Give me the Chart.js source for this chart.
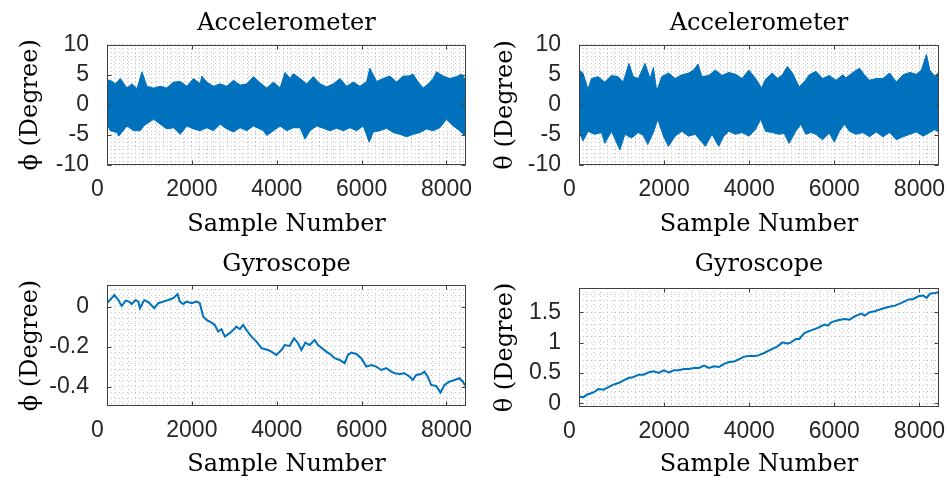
<!DOCTYPE html>
<html>
<head>
<meta charset="utf-8">
<script src="https://cdn.jsdelivr.net/npm/chart.js@4.4.1/dist/chart.umd.min.js"></script>
<style>
  html, body { margin: 0; padding: 0; background: #fff; }
  #fig { position: relative; width: 949px; height: 480px; }
  #fig canvas { position: absolute; }
</style>
</head>
<body>
<div id="fig">
  <canvas id="acc-phi" width="475" height="240" style="left:0;top:0"></canvas>
  <canvas id="acc-theta" width="474" height="240" style="left:475px;top:0"></canvas>
  <canvas id="gyro-phi" width="475" height="240" style="left:0;top:240px"></canvas>
  <canvas id="gyro-theta" width="474" height="240" style="left:475px;top:240px"></canvas>
</div>
<script>
// ---------- dados ----------
// acelerômetro: envoltória superior/inferior do ruído (graus)
const accPhiUpperX = [0,78,196,314,471,588,706,824,941,1098,1255,1412,1569,1725,1882,2039,2196,2235,2353,2510,2667,2824,2980,3137,3294,3451,3608,3765,3922,4078,4196,4314,4392,4549,4706,4863,5020,5176,5333,5490,5647,5804,5961,6118,6196,6353,6510,6667,6824,6980,7098,7216,7333,7451,7569,7686,7765,7922,8078,8235,8353,8431,8460];
const accPhiUpperY = [4.1,4.1,3.5,4.4,2.8,3.5,2.7,5.5,3.1,2.8,3.1,2.8,3.8,3.9,3.1,4.4,3.5,4.8,3.8,3.1,3.5,3.1,4.1,3.3,3.5,4.7,3.7,2.8,3.8,2.8,5.4,4.4,5.2,4.4,3.5,4.7,3.5,3.0,3.5,4.4,3.1,3.8,3.1,3.9,6.1,3.9,4.4,4.8,3.8,4.8,4.8,5.1,3.8,2.8,3.5,4.4,5.5,4.8,4.4,4.7,5.1,4.4,4.0];
const accPhiLowerX = [0,78,235,275,471,627,784,863,1098,1255,1412,1569,1725,1882,2039,2196,2353,2510,2667,2824,2980,3137,3294,3451,3686,3765,3922,4078,4235,4392,4549,4667,4784,4941,5098,5255,5412,5569,5725,5882,6039,6180,6275,6431,6588,6745,6902,7059,7216,7373,7529,7686,7843,8000,8157,8314,8431,8460];
const accPhiLowerY = [-3.2,-4.3,-4.6,-5.2,-3.5,-4.3,-4.3,-3.5,-2.4,-3.2,-4.0,-3.8,-4.9,-3.5,-4.0,-4.3,-3.8,-4.3,-3.2,-4.0,-4.5,-3.8,-4.3,-3.5,-4.3,-5.1,-4.3,-3.5,-4.3,-3.8,-3.8,-5.7,-4.3,-3.5,-3.9,-4.3,-3.9,-4.3,-3.8,-4.3,-3.5,-6.2,-4.5,-4.3,-3.9,-4.6,-4.9,-5.3,-4.9,-4.6,-4.0,-4.3,-3.8,-2.4,-3.5,-4.3,-5.2,-4.5];

const accThetaUpperX = [0,94,213,291,449,606,764,921,1039,1173,1276,1394,1551,1669,1748,1827,1945,2102,2260,2417,2575,2693,2795,2890,3047,3205,3362,3520,3677,3835,3992,4150,4291,4386,4543,4661,4780,4898,5016,5173,5291,5409,5567,5724,5882,6039,6197,6276,6433,6591,6709,6827,6984,7142,7299,7457,7614,7772,7929,8047,8165,8244,8362,8460];
const accThetaUpperY = [5.8,5.3,2.6,4.4,4.7,3.8,4.9,4.7,3.8,6.9,4.7,4.4,6.9,4.4,6.2,2.3,4.7,5.3,4.4,5.0,5.3,5.8,6.8,4.7,4.9,5.8,4.9,5.4,5.1,4.4,5.8,4.4,2.8,4.3,5.3,4.4,5.0,6.4,5.3,3.0,3.8,5.0,5.6,4.4,4.9,4.1,5.0,4.5,5.4,6.1,5.0,4.1,4.4,4.4,5.3,3.8,5.0,5.4,5.1,5.8,8.4,5.8,4.7,5.5];
const accThetaLowerX = [0,94,213,370,528,606,764,961,1079,1236,1394,1512,1614,1748,1850,1984,2102,2260,2417,2575,2732,2969,3126,3283,3402,3520,3677,3835,3992,4150,4268,4386,4543,4701,4819,4937,5094,5213,5331,5449,5567,5724,5882,6000,6118,6236,6354,6512,6669,6827,6984,7142,7299,7457,7614,7772,7929,8087,8244,8362,8460];
const accThetaLowerY = [-4.4,-6.0,-4.4,-4.9,-4.6,-6.4,-4.4,-7.5,-4.9,-5.5,-4.6,-5.1,-6.6,-4.6,-2.4,-5.2,-6.9,-5.2,-4.4,-5.2,-4.9,-6.9,-4.9,-6.9,-5.2,-4.4,-4.9,-4.6,-5.2,-4.1,-2.4,-4.4,-4.6,-4.9,-4.7,-6.4,-4.4,-3.2,-4.9,-4.6,-4.9,-5.8,-4.7,-6.2,-4.4,-3.2,-4.4,-4.9,-4.6,-5.3,-4.5,-5.3,-4.6,-5.8,-5.3,-4.9,-4.5,-5.2,-4.6,-4.1,-4.6];

// giroscópio: ângulo integrado (graus)
const gyroPhiX = [0,173,267,345,439,518,580,675,737,776,878,988,1114,1208,1325,1443,1561,1663,1718,1796,1875,1992,2110,2188,2227,2267,2345,2424,2541,2620,2698,2776,2894,2973,3051,3129,3208,3286,3404,3522,3639,3796,3874,3992,4110,4188,4306,4408,4502,4580,4674,4776,4894,4972,5066,5168,5286,5364,5482,5600,5678,5757,5874,5992,6110,6227,6345,6462,6580,6698,6776,6894,7011,7129,7207,7286,7404,7482,7560,7639,7756,7859,7953,8070,8188,8305,8384,8460];
const gyroPhiY = [0.017,0.058,0.033,0.003,0.03,0.025,0.013,0.033,0.025,-0.008,0.033,0.02,-0.008,0.017,0.025,0.033,0.042,0.063,0.025,0.013,0.025,0.017,0.025,0.017,-0.017,-0.05,-0.067,-0.075,-0.092,-0.125,-0.113,-0.15,-0.133,-0.117,-0.1,-0.113,-0.092,-0.117,-0.15,-0.175,-0.208,-0.217,-0.225,-0.242,-0.217,-0.192,-0.197,-0.158,-0.183,-0.217,-0.18,-0.192,-0.167,-0.192,-0.208,-0.225,-0.242,-0.258,-0.267,-0.283,-0.242,-0.23,-0.237,-0.258,-0.3,-0.292,-0.3,-0.317,-0.308,-0.325,-0.333,-0.337,-0.333,-0.35,-0.367,-0.342,-0.337,-0.325,-0.35,-0.392,-0.397,-0.43,-0.392,-0.375,-0.367,-0.358,-0.375,-0.4];

const gyroThetaX = [0,102,181,299,378,457,575,693,811,929,1047,1165,1283,1402,1520,1638,1756,1874,1992,2110,2228,2346,2465,2583,2701,2819,2937,3055,3173,3291,3409,3528,3646,3764,3882,4000,4118,4194,4351,4509,4666,4785,4903,4982,5100,5178,5296,5454,5611,5769,5848,5926,6084,6241,6359,6477,6635,6714,6832,6950,7107,7265,7422,7580,7737,7855,7973,8091,8170,8249,8367,8460];
const gyroThetaY = [0.115,0.099,0.143,0.170,0.198,0.236,0.225,0.269,0.308,0.335,0.379,0.418,0.434,0.473,0.473,0.511,0.527,0.5,0.544,0.511,0.544,0.544,0.566,0.566,0.582,0.582,0.621,0.582,0.61,0.599,0.65,0.68,0.69,0.73,0.77,0.78,0.78,0.786,0.83,0.885,0.94,1.005,0.984,1.005,1.06,1.06,1.159,1.203,1.242,1.297,1.28,1.335,1.368,1.39,1.379,1.434,1.478,1.445,1.5,1.516,1.555,1.588,1.61,1.654,1.709,1.72,1.764,1.775,1.736,1.808,1.819,1.83];

// eixos
const SAMPLE_MAX = 8460;
const X_MAJOR = [0, 2000, 4000, 6000, 8000];
const ACC_Y_MAJOR = [-10, -5, 0, 5, 10];
const GYRO_PHI_Y_MAJOR = [-0.4, -0.2, 0];
const GYRO_THETA_Y_MAJOR = [0, 0.5, 1, 1.5];

// ---------- estilo ----------
const BLUE = '#0072BD';
const TICK_FONT = { family: "'Liberation Sans', Arial, sans-serif", size: 23 };
const SERIF = "'DejaVu Serif', 'Liberation Serif', serif";
const GRID_COLOR = '#c4c4c4';

const pts = (xs, ys) => xs.map((x, i) => ({ x, y: ys[i] }));
const isMajor = (v, list) => list.some(m => Math.abs(v - m) < 1e-6);
const fmt = v => String(+v.toFixed(2));
// o "0" do eixo x fica um pouco à esquerda do canto, como no original
const xLabel = v => Math.round(v) === 0 ? '0   ' : String(Math.round(v));

// caixa fechada + marcas de escala para dentro
const axesBox = {
  id: 'axesBox',
  afterDraw(chart, args, opts) {
    const { ctx, chartArea: a, scales: { x, y } } = chart;
    const L = Math.round(a.left) + 0.5, R = Math.round(a.right) - 0.5;
    const T = Math.round(a.top) + 0.5, B = Math.round(a.bottom) - 0.5;
    ctx.save();
    ctx.strokeStyle = '#404040';
    ctx.lineWidth = 1;
    ctx.beginPath();
    opts.xMajor.forEach(v => {
      const px = Math.round(x.getPixelForValue(v)) + 0.5;
      ctx.moveTo(px, B); ctx.lineTo(px, B - 4);
      ctx.moveTo(px, T); ctx.lineTo(px, T + 4);
    });
    opts.yMajor.forEach(v => {
      const py = Math.round(y.getPixelForValue(v)) + 0.5;
      ctx.moveTo(L, py); ctx.lineTo(L + 4, py);
      ctx.moveTo(R, py); ctx.lineTo(R - 4, py);
    });
    ctx.stroke();
    ctx.strokeRect(L, T, R - L, B - T);
    ctx.restore();
  }
};

function makePanel(id, p) {
  const canvas = document.getElementById(id);
  const W = canvas.width, H = canvas.height;
  return new Chart(canvas, {
    type: 'line',
    data: { datasets: p.datasets },
    plugins: [axesBox],
    options: {
      responsive: false,
      animation: false,
      devicePixelRatio: 1,
      events: [],
      layout: { padding: { left: 0, top: 0, bottom: 0, right: W - p.area.right } },
      elements: { point: { radius: 0 }, line: { tension: 0 } },
      plugins: {
        legend: { display: false },
        tooltip: { enabled: false },
        title: {
          display: true,
          fullSize: false,
          text: p.title,
          color: '#000',
          font: { family: SERIF, size: 24, weight: 'normal', lineHeight: 1.2 },
          padding: p.titlePad
        },
        axesBox: { xMajor: X_MAJOR, yMajor: p.yMajor }
      },
      scales: {
        x: {
          type: 'linear',
          min: 0,
          max: SAMPLE_MAX,
          afterFit: s => { s.height = H - p.area.bottom; },
          ticks: {
            stepSize: 2000 / 12,
            includeBounds: false,
            autoSkip: false,
            maxRotation: 0,
            minRotation: 0,
            padding: 11,
            color: '#262626',
            font: TICK_FONT,
            callback: v => isMajor(v, X_MAJOR) ? xLabel(v) : ''
          },
          grid: { color: GRID_COLOR, lineWidth: 1, drawTicks: false },
          border: { display: false, dash: [1, 3] },
          title: {
            display: true,
            text: 'Sample Number',
            color: '#000',
            font: { family: SERIF, size: 24, lineHeight: 1.2 },
            padding: { top: 0, bottom: 1 }
          }
        },
        y: {
          type: 'linear',
          min: p.yMin,
          max: p.yMax,
          afterFit: s => { s.width = p.area.left; },
          ticks: {
            stepSize: p.yStep,
            includeBounds: false,
            autoSkip: false,
            padding: 18,
            color: '#262626',
            font: TICK_FONT,
            callback: v => isMajor(v, p.yMajor) ? fmt(v) : ''
          },
          grid: { color: GRID_COLOR, lineWidth: 1, drawTicks: false },
          border: { display: false, dash: [1, 3] },
          title: {
            display: true,
            text: p.yTitle,
            color: '#000',
            font: { family: SERIF, size: 24, lineHeight: 1.2 },
            padding: { top: 16, bottom: 0 }
          }
        }
      }
    }
  });
}

// faixa de ruído: envoltória superior + inferior preenchida entre si
function noiseBand(ux, uy, lx, ly) {
  return [
    { data: pts(ux, uy), borderColor: BLUE, borderWidth: 1, fill: false },
    { data: pts(lx, ly), borderColor: BLUE, borderWidth: 1, backgroundColor: BLUE, fill: '-1' }
  ];
}

function trace(xs, ys) {
  return [{ data: pts(xs, ys), borderColor: BLUE, borderWidth: 2, fill: false }];
}

makePanel('acc-phi', {
  title: 'Accelerometer',
  titlePad: { top: 9, bottom: 7 },
  yTitle: 'ϕ (Degree)',
  area: { left: 107, right: 466, bottom: 165 },
  yMin: -10, yMax: 10, yStep: 0.625, yMajor: ACC_Y_MAJOR,
  datasets: noiseBand(accPhiUpperX, accPhiUpperY, accPhiLowerX, accPhiLowerY)
});

makePanel('acc-theta', {
  title: 'Accelerometer',
  titlePad: { top: 9, bottom: 7 },
  yTitle: 'θ (Degree)',
  area: { left: 104, right: 464, bottom: 165 },
  yMin: -10, yMax: 10, yStep: 0.625, yMajor: ACC_Y_MAJOR,
  datasets: noiseBand(accThetaUpperX, accThetaUpperY, accThetaLowerX, accThetaLowerY)
});

makePanel('gyro-phi', {
  title: 'Gyroscope',
  titlePad: { top: 10.5, bottom: 5.7 },
  yTitle: 'ϕ (Degree)',
  area: { left: 107, right: 466, bottom: 166 },
  yMin: -0.497, yMax: 0.108, yStep: 0.2 / 7, yMajor: GYRO_PHI_Y_MAJOR,
  datasets: trace(gyroPhiX, gyroPhiY)
});

makePanel('gyro-theta', {
  title: 'Gyroscope',
  titlePad: { top: 10.5, bottom: 8.7 },
  yTitle: 'θ (Degree)',
  area: { left: 104, right: 464, bottom: 167 },
  yMin: -0.06, yMax: 1.9, yStep: 0.1, yMajor: GYRO_THETA_Y_MAJOR,
  datasets: trace(gyroThetaX, gyroThetaY)
});
</script>
</body>
</html>
